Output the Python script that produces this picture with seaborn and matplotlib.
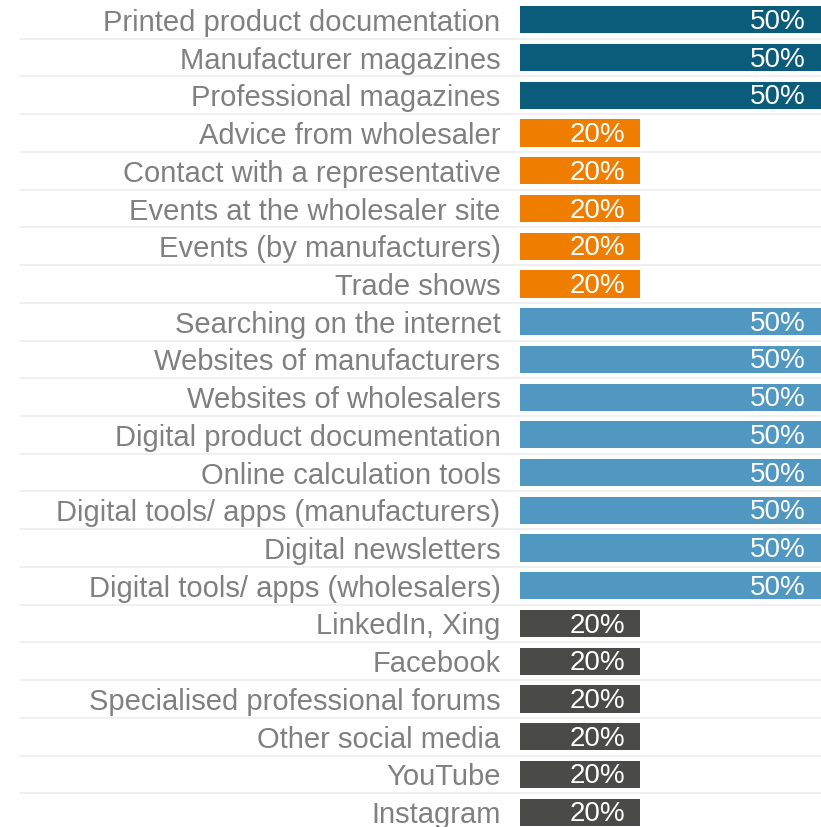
import matplotlib
matplotlib.use("Agg")
import matplotlib.pyplot as plt
import seaborn as sns
import pandas as pd

categories = [
    "Printed product documentation",
    "Manufacturer magazines",
    "Professional magazines",
    "Advice from wholesaler",
    "Contact with a representative",
    "Events at the wholesaler site",
    "Events (by manufacturers)",
    "Trade shows",
    "Searching on the internet",
    "Websites of manufacturers",
    "Websites of wholesalers",
    "Digital product documentation",
    "Online calculation tools",
    "Digital tools/ apps (manufacturers)",
    "Digital newsletters",
    "Digital tools/ apps (wholesalers)",
    "LinkedIn, Xing",
    "Facebook",
    "Specialised professional forums",
    "Other social media",
    "YouTube",
    "Instagram",
]
values = [50, 50, 50, 20, 20, 20, 20, 20, 50, 50, 50, 50, 50, 50, 50, 50,
          20, 20, 20, 20, 20, 20]
groups = ["Print"] * 3 + ["Personal"] * 5 + ["Digital"] * 8 + ["Social"] * 6
group_colors = {
    "Print": "#0B5C7A",
    "Personal": "#EF7D00",
    "Digital": "#5097C2",
    "Social": "#4A4A49",
}

df = pd.DataFrame({"category": categories, "value": values, "group": groups})

sns.set_theme(style="white")
plt.rcParams["font.family"] = ["Liberation Sans", "DejaVu Sans"]

W, H = 821, 827
fig = plt.figure(figsize=(W / 100, H / 100), dpi=100)
left_px, right_px, top_px, bottom_px = 520, 821, 1, 831
ax = fig.add_axes([left_px / W, (H - bottom_px) / H,
                   (right_px - left_px) / W, (bottom_px - top_px) / H])

sns.barplot(data=df, y="category", x="value", hue="group",
            palette=group_colors, dodge=False, width=0.72,
            orient="h", legend=False, ax=ax, saturation=1, linewidth=0)

ax.set_xlim(0, 50)
ax.set_ylim(len(categories) - 0.5, -0.5)
ax.set_xlabel("")
ax.set_ylabel("")
ax.set_xticks([])
for s in ax.spines.values():
    s.set_visible(False)
ax.tick_params(axis="y", length=0, pad=14, labelsize=21, labelcolor="#808080")

# row separators running under the labels and bars
trans = ax.get_yaxis_transform()
sep_left = (20 - left_px) / (right_px - left_px)
for i in range(len(categories) - 1):
    ax.plot([sep_left, 1], [i + 0.5, i + 0.5], transform=trans,
            color="#EDEDED", lw=1.2, zorder=0, clip_on=False)

# value labels inside the bar ends
for i, v in enumerate(values):
    ax.annotate(f"{v}%", xy=(v, i), xytext=(-11, -1.5), textcoords="offset points",
                ha="right", va="center", color="white", fontsize=20)

fig.savefig("out.png", dpi=100)
